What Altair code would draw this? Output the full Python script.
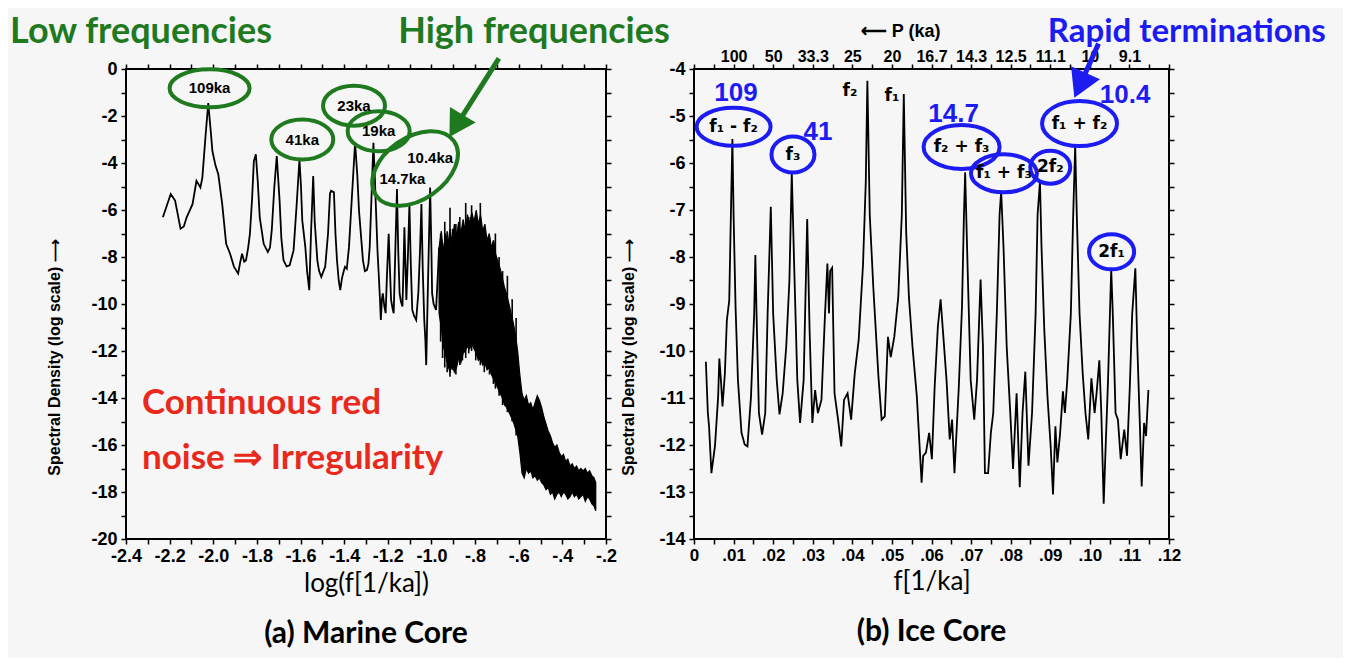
import altair as alt
import pandas as pd

# ---------------- (a) Marine core: spectrum ----------------
marine_x = [-2.231, -2.195, -2.175, -2.150, -2.135, -2.122, -2.095, -2.077, -2.068, -2.059, -2.050, -2.035,
            -2.023, -2.012, -2.004, -1.990, -1.977, -1.959, -1.941, -1.923, -1.905, -1.886, -1.876, -1.868,
            -1.858, -1.850, -1.840, -1.832, -1.822, -1.814, -1.805, -1.796, -1.787, -1.769, -1.750, -1.740,
            -1.732, -1.720, -1.709, -1.696, -1.688, -1.678, -1.664, -1.650, -1.640, -1.632, -1.618, -1.605,
            -1.598, -1.592, -1.578, -1.570, -1.560, -1.552, -1.542, -1.535, -1.523, -1.515, -1.505, -1.495,
            -1.487, -1.474, -1.465, -1.460, -1.447, -1.440, -1.433, -1.425, -1.418, -1.410, -1.402, -1.396,
            -1.388, -1.378, -1.365, -1.350, -1.340, -1.332, -1.314, -1.305, -1.296, -1.289, -1.283, -1.275,
            -1.266, -1.260, -1.254, -1.247, -1.241, -1.236, -1.232, -1.227, -1.223, -1.216, -1.210, -1.204,
            -1.196, -1.190, -1.185, -1.178, -1.173, -1.165, -1.158, -1.152, -1.146, -1.140, -1.133, -1.128,
            -1.124, -1.119, -1.115, -1.108, -1.101, -1.095, -1.088, -1.080, -1.070, -1.060, -1.052, -1.046,
            -1.040, -1.033, -1.028, -1.024, -1.018, -1.012, -1.006, -1.000, -0.997, -0.990, -0.979, -0.972,
            -0.965]
marine_y = [-6.31, -5.32, -5.6, -6.80, -6.7, -6.31, -5.75, -4.76, -4.9, -5.04, -4.62, -2.8,
            -1.45, -2.6, -3.49, -4.1, -4.48, -5.75, -7.44, -7.86, -8.42, -8.70, -8.2, -7.86,
            -8.2, -8.14, -7.6, -7.01, -5.5, -3.92, -3.63, -4.8, -6.31, -7.44, -7.79, -7.6,
            -6.87, -5.0, -3.70, -5.61, -7.2, -8.14, -8.4, -8.35, -8.0, -7.72, -5.8, -3.85,
            -5.0, -6.45, -7.58, -8.6, -9.41, -7.0, -4.55, -6.5, -8.14, -8.6, -8.85, -8.6,
            -8.42, -7.0, -5.3, -5.18, -5.25, -7.0, -8.14, -9.0, -9.41, -8.9, -8.6, -8.42,
            -8.5, -7.58, -5.5, -3.14, -4.5, -6.03, -8.14, -8.6, -8.56, -8.3, -7.58, -5.5,
            -3.14, -4.5, -6.03, -7.8, -8.85, -9.8, -10.68, -9.8, -9.55, -10.1, -10.39, -8.8,
            -7.01, -8.6, -9.83, -10.2, -10.39, -7.5, -5.11, -7.8, -9.55, -9.9, -10.11, -8.4,
            -6.73, -8.4, -9.83, -8.0, -5.75, -8.2, -10.25, -10.5, -10.68, -9.5, -7.6, -5.75,
            -8.5, -10.68, -11.5, -12.6, -10.0, -7.5, -5.04, -7.8, -9.55, -10.0, -10.25, -9.0,
            -7.6]

# dense (unresolved) high-frequency part: upper / lower envelope of the black band
band_x = [-0.965, -0.955, -0.945, -0.935, -0.925, -0.915, -0.905, -0.895, -0.885, -0.875, -0.865, -0.855,
          -0.845, -0.835, -0.825, -0.815, -0.805, -0.795, -0.785, -0.775, -0.765, -0.755, -0.745, -0.735,
          -0.725, -0.715, -0.705, -0.695, -0.685, -0.675, -0.665, -0.655, -0.645, -0.635, -0.625, -0.615,
          -0.605, -0.595, -0.585, -0.575, -0.565, -0.555, -0.545, -0.535, -0.525, -0.515, -0.505, -0.495,
          -0.485, -0.475, -0.465, -0.455, -0.445, -0.435, -0.425, -0.415, -0.405, -0.395, -0.385, -0.375,
          -0.365, -0.355, -0.345, -0.335, -0.325, -0.315, -0.305, -0.295, -0.285, -0.275, -0.265, -0.255,
          -0.247]
band_top = [-7.6, -6.9, -7.8, -7.0, -7.5, -6.8, -7.4, -6.6, -7.1, -6.5, -7.0, -6.4,
            -6.9, -6.2, -6.6, -6.1, -6.5, -6.0, -6.6, -6.2, -6.9, -6.6, -7.3, -7.0,
            -7.6, -7.3, -7.9, -8.2, -8.5, -8.9, -9.3, -9.6, -10.0, -10.4, -10.8, -11.3,
            -12.0, -13.0, -13.8, -14.1, -13.9, -14.3, -14.2, -14.5, -14.2, -13.9, -14.1, -14.4,
            -14.8, -15.1, -15.4, -15.6, -15.9, -16.1, -16.0, -16.3, -16.5, -16.4, -16.7, -16.6,
            -16.9, -16.8, -17.0, -16.9, -17.1, -17.0, -17.1, -17.0, -17.2, -17.1, -17.3, -17.4,
            -17.6]
band_bot = [-10.4, -11.0, -11.8, -12.2, -12.6, -12.9, -12.6, -12.9, -12.7, -12.3, -12.5, -12.1,
            -12.0, -11.8, -11.9, -11.7, -11.9, -12.1, -12.4, -12.3, -12.6, -12.5, -12.8, -12.7,
            -13.0, -13.2, -13.4, -13.6, -13.8, -14.0, -14.3, -14.4, -14.6, -14.8, -15.0, -15.3,
            -15.6, -16.3, -17.2, -17.4, -17.0, -17.2, -17.1, -17.4, -17.3, -17.5, -17.4, -17.6,
            -17.7, -17.9, -17.8, -18.1, -18.0, -18.3, -18.1, -18.0, -18.2, -18.0, -18.1, -18.3,
            -18.2, -18.0, -18.2, -18.1, -18.3, -18.2, -18.1, -18.4, -18.2, -18.3, -18.5, -18.6,
            -18.8]

# isolated spikes rising out of / hanging below the dense band
spike_x = [-0.958, -0.949, -0.939, -0.928, -0.915, -0.903, -0.888, -0.870, -0.858, -0.843, -0.829,
           -0.816, -0.797, -0.776, -0.758, -0.734, -0.716, -0.707, -0.690, -0.674, -0.652, -0.630, -0.612]
spike_top = [-7.0, -7.4, -6.5, -6.9, -5.9, -6.8, -6.6, -6.3, -6.8, -5.7, -6.3,
             -5.8, -6.8, -5.7, -7.2, -7.2, -7.3, -7.0, -8.0, -8.6, -8.8, -9.8, -10.6]
spike_bot = [-11.6, -12.3, -12.7, -12.9, -13.1, -12.8, -13.0, -12.6, -12.4, -12.3, -12.1,
             -12.0, -12.4, -12.6, -12.9, -13.0, -13.4, -13.6, -13.9, -14.3, -14.6, -15.0, -15.6]

# ---------------- (b) Ice core ----------------
ice_x = [0.0030, 0.0035, 0.0038, 0.0044, 0.0053, 0.0061, 0.0064, 0.0068, 0.0072, 0.0078, 0.0083, 0.0089,
         0.0094, 0.0097, 0.0100, 0.0105, 0.0111, 0.0120, 0.0128, 0.0135, 0.0144, 0.0152, 0.0155, 0.0158,
         0.0164, 0.0172, 0.0180, 0.0186, 0.0194, 0.0200, 0.0209, 0.0216, 0.0224, 0.0233, 0.0241, 0.0247,
         0.0253, 0.0261, 0.0268, 0.0277, 0.0286, 0.0292, 0.0299, 0.0306, 0.0313, 0.0322, 0.0331, 0.0337,
         0.0341, 0.0344, 0.0349, 0.0355, 0.0364, 0.0372, 0.0379, 0.0388, 0.0397, 0.0406, 0.0416, 0.0427,
         0.0434, 0.0438, 0.0444, 0.0453, 0.0466, 0.0474, 0.0482, 0.0490, 0.0497, 0.0506, 0.0516, 0.0525,
         0.0530, 0.0536, 0.0543, 0.0552, 0.0563, 0.0575, 0.0579, 0.0586, 0.0594, 0.0601, 0.0608, 0.0616,
         0.0623, 0.0630, 0.0638, 0.0646, 0.0652, 0.0658, 0.0669, 0.0677, 0.0682, 0.0685, 0.0691, 0.0699,
         0.0708, 0.0715, 0.0724, 0.0730, 0.0735, 0.0743, 0.0750, 0.0756, 0.0765, 0.0772, 0.0776, 0.0782,
         0.0790, 0.0799, 0.0806, 0.0815, 0.0823, 0.0830, 0.0837, 0.0845, 0.0854, 0.0863, 0.0868, 0.0874,
         0.0878, 0.0885, 0.0893, 0.0901, 0.0907, 0.0913, 0.0918, 0.0925, 0.0932, 0.0937, 0.0943, 0.0952,
         0.0958, 0.0963, 0.0967, 0.0974, 0.0982, 0.0989, 0.0996, 0.1004, 0.1012, 0.1017, 0.1024, 0.1029,
         0.1035, 0.1040, 0.1046, 0.1054, 0.1058, 0.1065, 0.1071, 0.1078, 0.1087, 0.1094, 0.1101, 0.1107,
         0.1115, 0.1120, 0.1126, 0.1131, 0.1137, 0.1142, 0.1148]
ice_y = [-10.23, -11.32, -11.6, -12.6, -12.02, -10.97, -10.16, -10.62, -11.18, -10.48, -9.35, -8.93,
         -6.75, -5.49, -7.1, -9.07, -10.62, -11.74, -11.99, -12.03, -10.97, -9.21, -7.96, -9.21,
         -11.32, -11.78, -11.32, -9.21, -6.93, -9.21, -10.62, -11.35, -10.9, -9.91, -8.51, -6.2,
         -8.16, -10.62, -11.53, -10.62, -7.19, -9.56, -11.53, -10.83, -11.32, -11.04, -9.21, -8.14,
         -9.2, -8.3, -8.23, -10.9, -11.46, -12.03, -11.04, -10.9, -11.46, -10.48, -9.77, -8.16,
         -6.4, -4.25, -7.1, -8.65, -10.55, -11.46, -11.39, -9.7, -10.13, -9.7, -8.86, -7.1,
         -4.53, -7.46, -8.86, -9.91, -10.97, -12.8, -12.23, -12.16, -11.74, -12.3, -10.76, -9.49,
         -8.9, -9.7, -10.62, -11.88, -11.46, -12.6, -10.76, -9.07, -7.1, -6.2, -8.16, -10.62,
         -11.46, -10.62, -8.48, -9.91, -12.6, -12.6, -11.74, -11.32, -9.21, -7.1, -6.6, -7.81,
         -9.91, -11.32, -12.51, -10.9, -12.9, -11.32, -10.44, -12.44, -11.32, -9.21, -7.1, -6.4,
         -7.81, -9.56, -10.97, -12.02, -13.05, -11.6, -12.37, -11.74, -10.86, -11.32, -10.62, -9.21,
         -7.1, -5.63, -7.1, -9.21, -10.48, -11.32, -11.88, -10.58, -11.32, -10.9, -10.2, -11.32,
         -13.25, -12.02, -10.62, -8.26, -9.21, -11.32, -11.46, -12.3, -11.67, -12.23, -10.76, -9.21,
         -8.24, -9.91, -11.46, -12.88, -11.53, -11.81, -10.83]

period_labels = ["100", "50", "33.3", "25", "20", "16.7", "14.3", "12.5", "11.1", "10", "9.1"]

# ---------------- styling ----------------
GREEN = "#1f7a1f"
BLUE = "#1c1cf2"
RED = "#e8291c"
SLIDE_FONT = "Lato"
AX_FONT = "Liberation Sans"
SUB_FONT = "DejaVu Sans"
BG = "#f5f6f5"

xl = alt.Scale(domain=[-2.4, -0.2], nice=False, zero=False)
yl = alt.Scale(domain=[-20, 0], nice=False, zero=False)
xr = alt.Scale(domain=[0, 0.12], nice=False, zero=False)
yr = alt.Scale(domain=[-14, -4], nice=False, zero=False)

AX = dict(labelFont=AX_FONT, labelFontWeight="bold", labelColor="black", labelOverlap=False,
          labelFlush=False, tickColor="black", tickSize=5, tickWidth=1.5, domain=False, grid=False)
YT = dict(titleFont=AX_FONT, titleFontSize=16, titleFontWeight="bold", titleColor="black",
          titleY=288, titleAlign="center")
XT = dict(titleFont=SLIDE_FONT, titleFontSize=26, titleFontWeight="normal", titleColor="black",
          titlePadding=5, labelPadding=3)

TOP_V_A = 1.578    # height (data units) of the slide headings above panel (a)
TOP_V_B = -3.213   # same height expressed in panel (b) units


def one(x, y):
    return pd.DataFrame({"x": [x], "y": [y]})


def enc(xs, ys):
    return dict(x=alt.X("x:Q", scale=xs, axis=None), y=alt.Y("y:Q", scale=ys, axis=None))


def ellipse(xs, ys, x, y, w, h, color, angle=0):
    r = h / w
    path = f"M -1 0 A 1 {r:.3f} 0 1 0 1 0 A 1 {r:.3f} 0 1 0 -1 0 Z"
    return alt.Chart(one(x, y)).mark_point(
        shape=path, size=w * w, filled=False, strokeWidth=4, color=color, opacity=1, angle=angle
    ).encode(**enc(xs, ys))


def label(xs, ys, x, y, s, size, color="black", weight="bold", font=AX_FONT, align="center"):
    return alt.Chart(one(x, y)).mark_text(
        text=s, fontSize=size, color=color, fontWeight=weight, font=font, align=align, baseline="middle"
    ).encode(**enc(xs, ys))


def arrow(xs, ys, x0, y0, x1, y1, color, ang, head):
    shaft = alt.Chart(pd.DataFrame({"x": [x0], "y": [y0], "x2": [x1], "y2": [y1]})).mark_rule(
        color=color, strokeWidth=5
    ).encode(x=alt.X("x:Q", scale=xs, axis=None), y=alt.Y("y:Q", scale=ys, axis=None), x2="x2:Q", y2="y2:Q")
    tip = alt.Chart(one(x1, y1)).mark_point(
        shape="triangle-down", size=head, filled=True, color=color, opacity=1, angle=ang
    ).encode(**enc(xs, ys))
    return shaft + tip


YTITLE = "Spectral Density (log scale) \u27f6"

# ---------------- panel (a) ----------------
mdf = pd.DataFrame({"x": marine_x, "y": marine_y})
bdf = pd.DataFrame({"x": band_x, "top": band_top, "bot": band_bot})
sdf = pd.DataFrame({"x": spike_x, "top": spike_top, "bot": spike_bot})

xl_ticks = [round(-2.4 + 0.1 * i, 2) for i in range(23)]
yl_ticks = list(range(-20, 1))

a_line = alt.Chart(mdf).mark_line(color="black", strokeWidth=1.8).encode(
    x=alt.X("x:Q", scale=xl, axis=alt.Axis(
        values=xl_ticks, title="log(f[1/ka])", labelFontSize=18,
        labelExpr="(round(datum.value*10) % 2 != 0) ? '' : (datum.value <= -1 ? replace(format(datum.value, '.1f'), '\u2212', '-') : '-.' + format(abs(datum.value)*10, '.0f'))",
        **XT, **AX)),
    y=alt.Y("y:Q", scale=yl, axis=alt.Axis(
        values=yl_ticks, title=YTITLE, titlePadding=28, labelPadding=4, labelFontSize=18,
        labelExpr="(datum.value % 2 != 0) ? '' : replace(format(datum.value, 'd'), '\u2212', '-')",
        **YT, **AX)),
)
a_band = alt.Chart(bdf).mark_area(color="black", opacity=1, stroke="black", strokeWidth=1.2).encode(
    x=alt.X("x:Q", scale=xl, axis=None), y=alt.Y("top:Q", scale=yl, axis=None), y2="bot:Q")
a_spikes = alt.Chart(sdf).mark_rule(color="black", strokeWidth=1.6).encode(
    x=alt.X("x:Q", scale=xl, axis=None), y=alt.Y("top:Q", scale=yl, axis=None), y2="bot:Q")
a_frame_axes = alt.Chart(mdf).mark_point(opacity=0).encode(
    x=alt.X("x:Q", scale=xl, axis=alt.Axis(orient="top", values=xl_ticks, labels=False, title=None, **AX)),
    y=alt.Y("y:Q", scale=yl, axis=alt.Axis(orient="right", values=yl_ticks, labels=False, title=None, **AX)),
)

a_notes = [
    ellipse(xl, yl, -2.017, -0.82, 80, 38, GREEN),
    ellipse(xl, yl, -1.592, -3.0, 62, 40, GREEN),
    ellipse(xl, yl, -1.355, -1.56, 62, 40, GREEN),
    ellipse(xl, yl, -1.242, -2.65, 62, 40, GREEN),
    ellipse(xl, yl, -1.075, -4.23, 95, 62, GREEN, angle=325),
    label(xl, yl, -2.017, -0.82, "109ka", 15),
    label(xl, yl, -1.592, -3.0, "41ka", 15),
    label(xl, yl, -1.355, -1.56, "23ka", 15),
    label(xl, yl, -1.242, -2.65, "19ka", 15),
    label(xl, yl, -1.006, -3.77, "10.4ka", 15),
    label(xl, yl, -1.133, -4.69, "14.7ka", 15),
    label(xl, yl, -2.331, TOP_V_A, "Low frequencies", 36, GREEN, "bold", SLIDE_FONT),
    label(xl, yl, -0.530, TOP_V_A, "High frequencies", 36, GREEN, "bold", SLIDE_FONT),
    arrow(xl, yl, -0.691, 0.45, -0.887, -2.42, GREEN, 31, 900),
    label(xl, yl, -2.327, -14.2, "Continuous red", 35, RED, "bold", SLIDE_FONT, "left"),
    label(xl, yl, -2.327, -16.55, "noise \u21d2 Irregularity", 35, RED, "bold", SLIDE_FONT, "left"),
]

panel_a = alt.layer(a_line, a_band, a_spikes, a_frame_axes, *a_notes).resolve_axis(
    x="independent", y="independent"
).properties(
    width=480, height=470,
    title=alt.TitleParams("(a) Marine Core", orient="bottom", font=SLIDE_FONT, fontSize=30,
                          fontWeight="bold", color="black", offset=23),
)

# ---------------- panel (b) ----------------
idf = pd.DataFrame({"x": ice_x, "y": ice_y})
xr_ticks = [round(0.005 * i, 3) for i in range(25)]
yr_ticks = [-14 + 0.5 * i for i in range(21)]

b_line = alt.Chart(idf).mark_line(color="black", strokeWidth=1.8).encode(
    x=alt.X("x:Q", scale=xr, axis=alt.Axis(
        values=xr_ticks, title="f[1/ka]", labelFontSize=17,
        labelExpr="(round(datum.value*1000) % 10 != 0) ? '' : (datum.value == 0 ? '0' : '.' + (round(datum.value*100) < 10 ? '0' : '') + round(datum.value*100))",
        **XT, **AX)),
    y=alt.Y("y:Q", scale=yr, axis=alt.Axis(
        values=yr_ticks, title=YTITLE, titlePadding=22, labelPadding=4, labelFontSize=18,
        labelExpr="(datum.value % 1 != 0) ? '' : replace(format(datum.value, 'd'), '\u2212', '-')",
        **YT, **AX)),
)
period_expr = "[" + ",".join("'" + p + "'" for p in period_labels) + "]"
b_frame_axes = alt.Chart(idf).mark_point(opacity=0).encode(
    x=alt.X("x:Q", scale=xr, axis=alt.Axis(
        orient="top", values=xr_ticks, title=None, labelPadding=0, labelFontSize=16,
        labelExpr="(round(datum.value*1000) % 10 != 0 || datum.value < 0.005 || datum.value > 0.115) ? '' : " + period_expr + "[round(datum.value*100)-1]",
        **AX)),
    y=alt.Y("y:Q", scale=yr, axis=alt.Axis(orient="right", values=yr_ticks, labels=False, title=None, **AX)),
)

b_notes = [
    ellipse(xr, yr, 0.0100, -5.23, 74, 38, BLUE),
    ellipse(xr, yr, 0.0250, -5.82, 43, 36, BLUE),
    ellipse(xr, yr, 0.0676, -5.66, 76, 44, BLUE),
    ellipse(xr, yr, 0.0783, -6.22, 66, 38, BLUE),
    ellipse(xr, yr, 0.0900, -6.09, 40, 33, BLUE),
    ellipse(xr, yr, 0.0974, -5.16, 75, 45, BLUE),
    ellipse(xr, yr, 0.1055, -7.89, 45, 35, BLUE),
    label(xr, yr, 0.0100, -5.23, "f\u2081 - f\u2082", 17, font=SUB_FONT),
    label(xr, yr, 0.0250, -5.82, "f\u2083", 17, font=SUB_FONT),
    label(xr, yr, 0.0676, -5.66, "f\u2082 + f\u2083", 17, font=SUB_FONT),
    label(xr, yr, 0.0783, -6.22, "f\u2081 + f\u2083", 17, font=SUB_FONT),
    label(xr, yr, 0.0900, -6.09, "2f\u2082", 17, font=SUB_FONT),
    label(xr, yr, 0.0974, -5.16, "f\u2081 + f\u2082", 17, font=SUB_FONT),
    label(xr, yr, 0.1055, -7.89, "2f\u2081", 17, font=SUB_FONT),
    label(xr, yr, 0.0394, -4.46, "f\u2082", 17, font=SUB_FONT),
    label(xr, yr, 0.0500, -4.57, "f\u2081", 17, font=SUB_FONT),
    label(xr, yr, 0.0106, -4.5, "109", 26, BLUE),
    label(xr, yr, 0.0313, -5.33, "41", 26, BLUE),
    label(xr, yr, 0.0656, -4.96, "14.7", 26, BLUE),
    label(xr, yr, 0.1089, -4.55, "10.4", 26, BLUE),
    label(xr, yr, 0.0522, TOP_V_B, "\u27f5 P (ka)", 18),
    label(xr, yr, 0.1245, TOP_V_B, "Rapid terminations", 33, BLUE, "bold", SLIDE_FONT),
    arrow(xr, yr, 0.1022, -3.46, 0.0975, -4.346, BLUE, 24, 1000),
]

panel_b = alt.layer(b_line, b_frame_axes, *b_notes).resolve_axis(
    x="independent", y="independent"
).properties(
    width=475, height=470,
    title=alt.TitleParams("(b) Ice Core", orient="bottom", font=SLIDE_FONT, fontSize=30,
                          fontWeight="bold", color="black", offset=23),
)

chart = alt.hconcat(panel_a, panel_b, spacing=88, bounds="flush").properties(
    padding={"top": 4, "left": 0, "right": 16, "bottom": 8}, background=BG
).configure_view(stroke="black", strokeWidth=2)

chart.save("out.html", embed_options={"renderer": "svg", "actions": False})
